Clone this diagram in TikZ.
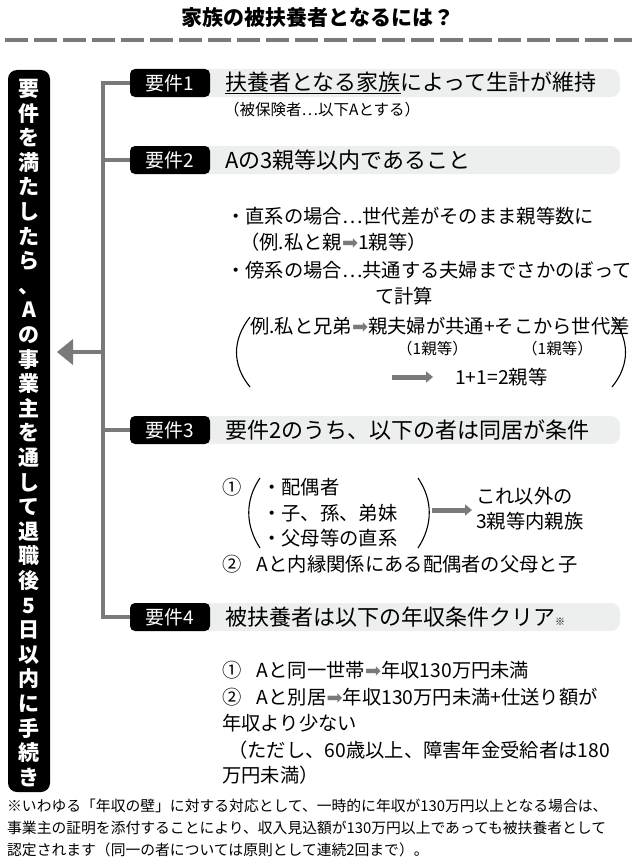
\documentclass[tikz,border=0pt]{standalone}
\usepackage{fontspec}
\setmainfont{Noto Sans CJK JP}
\newfontfamily\dv{DejaVu Sans}
\usetikzlibrary{arrows.meta}
\definecolor{lg}{HTML}{EDEEEE}
\definecolor{gl}{HTML}{7A7A7A}
\newcommand{\ar}{{\color{gl}\dv ➡}}
\newcommand{\tightlines}{\lineskiplimit=-100pt\relax\lineskip=0pt\relax}
\tikzset{
 tab/.style={fill=black,text=white,rounded corners=5pt,minimum width=80pt,minimum height=28pt,font=\fontsize{19}{19}\selectfont,inner sep=0pt},
 hd/.style={anchor=west,font=\fontsize{22}{22}\selectfont,inner sep=0pt},
 tx/.style={anchor=west,font=\fontsize{19.3}{19.3}\selectfont,inner sep=0pt},
 sm/.style={anchor=west,font=\fontsize{15.5}{15.5}\selectfont,inner sep=0pt},
 fn/.style={anchor=west,font=\fontsize{14.8}{14.8}\selectfont,inner sep=0pt},
 br/.style={gl,line width=4pt},
 par/.style={line width=1.1pt}
}
\begin{document}
\begin{tikzpicture}[x=1pt,y=-1pt]
\useasboundingbox (0,0) rectangle (637,867);
\node[font=\fontsize{21}{21}\selectfont\bfseries] (title) at (318,18) {家族の被扶養者となるには？};
\draw[gl,line width=4pt,dash pattern=on 23pt off 6pt] (5,40) -- (632,40);
% left box
\fill[black,rounded corners=9pt] (8,70) rectangle (50,792);
\node[text=white,align=center,font=\fontsize{21}{24.6}\selectfont\bfseries,inner sep=0pt] (side) at (29,433)
{\tightlines 要\\件\\を\\満\\た\\し\\た\\ら\\、\\A\\の\\事\\業\\主\\を\\通\\し\\て\\退\\職\\後\\5\\日\\以\\内\\に\\手\\続\\き};
% bracket
\draw[br] (130,83) -- (103,83) -- (103,617) -- (130,617);
\draw[br] (103,160) -- (130,160);
\draw[br] (103,430) -- (130,430);
\draw[gl,line width=4pt] (103,352) -- (70,352);
\fill[gl] (57,352) -- (73,339) -- (73,365) -- cycle;
% tabs
\foreach \y/\n in {83/1,160/2,430/3,617/4}{
 \fill[lg,rounded corners=9pt] (180,\y-14) rectangle (620,\y+14);
 \node[tab] (t\n) at (170,\y) {要件\n};
}
\node[hd] (h1) at (225,83) {\underline{扶養者となる家族}によって生計が維持};
\node[sm] (s1) at (224,110) {（被保険者…以下Aとする）};
\node[hd] (h2) at (225,160) {Aの3親等以内であること};
\node[tx] at (226,216) {・直系の場合…世代差がそのまま親等数に};
\node[tx] at (240,242) {（例.私と親\ar 1親等）};
\node[tx] at (226,270) {・傍系の場合…共通する夫婦までさかのぼって};
\node[tx] at (375,296) {て計算};
\draw[par] (250,317) .. controls (232,340) and (232,365) .. (250,387);
\draw[par] (612,317) .. controls (630,340) and (630,365) .. (612,387);
\node[tx] at (250,326) {例.私と兄弟\ar 親夫婦が共通+そこから世代差};
\node[sm] at (397,349) {（1親等）};
\node[sm] at (522,349) {（1親等）};
\draw[gl,line width=5pt,-{Triangle[length=7pt,width=11pt]}] (392,377) -- (433,377);
\node[tx] at (455,377) {1+1=2親等};
\node[hd] (h3) at (225,430) {要件2のうち、以下の者は同居が条件};
\node[tx] at (222,487) {①};
\draw[par] (260,478) .. controls (245,500) and (245,525) .. (260,548);
\draw[par] (418,478) .. controls (433,500) and (433,525) .. (418,548);
\node[tx] at (262,487) {・配偶者};
\node[tx] at (262,513) {・子、孫、弟妹};
\node[tx] at (262,538) {・父母等の直系};
\draw[gl,line width=5pt,-{Triangle[length=7pt,width=11pt]}] (432,510) -- (472,510);
\node[tx] at (476,496) {これ以外の};
\node[tx] at (476,521) {3親等内親族};
\node[tx] at (222,564) {②\hspace{0.8em}Aと内縁関係にある配偶者の父母と子};
\node[hd] (h4) at (225,617) {被扶養者は以下の年収条件クリア{\fontsize{10}{10}\selectfont ※}};
\node[tx] at (222,670) {①\hspace{0.8em}Aと同一世帯\ar 年収130万円未満};
\node[tx] at (222,697) {②\hspace{0.8em}Aと別居\ar 年収130万円未満+仕送り額が};
\node[tx] at (222,723) {年収より少ない};
\node[tx] at (228,750) {（ただし、60歳以上、障害年金受給者は180};
\node[tx] at (222,775) {万円未満）};
\node[fn] at (7,806) {※いわゆる「年収の壁」に対する対応として、一時的に年収が130万円以上となる場合は、};
\node[fn] at (7,828) {事業主の証明を添付することにより、収入見込額が130万円以上であっても被扶養者として};
\node[fn] at (7,850) {認定されます（同一の者については原則として連続2回まで）。};
\end{tikzpicture}
\end{document}
